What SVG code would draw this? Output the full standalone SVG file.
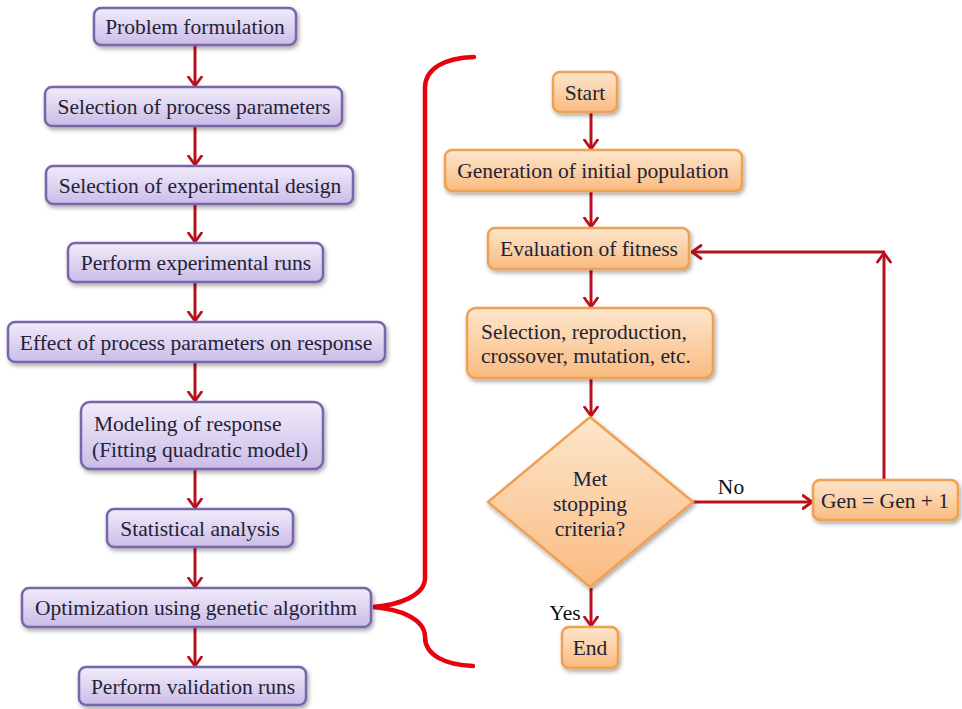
<svg xmlns="http://www.w3.org/2000/svg" width="962" height="709" viewBox="0 0 962 709">
<defs>
<linearGradient id="gp" x1="0" y1="0" x2="0" y2="1">
<stop offset="0" stop-color="#f1ecfb"/>
<stop offset="1" stop-color="#cbbce8"/>
</linearGradient>
<linearGradient id="go" x1="0" y1="0" x2="0" y2="1">
<stop offset="0" stop-color="#fde6cc"/>
<stop offset="1" stop-color="#f9bb80"/>
</linearGradient>
<filter id="sh" x="-10%" y="-20%" width="120%" height="150%">
<feDropShadow dx="1.5" dy="2.5" stdDeviation="2" flood-color="#000" flood-opacity="0.35"/>
</filter>
<marker id="ah" viewBox="0 0 12 16" refX="10.5" refY="8" markerWidth="12" markerHeight="16" markerUnits="userSpaceOnUse" orient="auto">
<path d="M1.5,1.5 L10.5,8 L1.5,14.5" fill="none" stroke="#b8101c" stroke-width="2.8" stroke-linecap="round" stroke-linejoin="round"/>
</marker>
</defs>
<style>
.p{fill:url(#gp);stroke:#7766a8;stroke-width:2.5;filter:url(#sh)}
.o{fill:url(#go);stroke:#f0a050;stroke-width:2.5;filter:url(#sh)}
text{font-family:"Liberation Serif","Times New Roman",serif;font-size:21.5px;fill:#1f2335}
.c{text-anchor:middle}
.lbl{fill:#111}
.cn{fill:none;stroke:#b8101c;stroke-width:3;marker-end:url(#ah)}
.br{fill:none;stroke:#e8000c;stroke-width:4.5;stroke-linecap:round}
</style>

<g id="connectors">
<line class="cn" x1="195" y1="46" x2="195" y2="86"/>
<line class="cn" x1="195" y1="127" x2="195" y2="165"/>
<line class="cn" x1="195" y1="205" x2="195" y2="242"/>
<line class="cn" x1="195" y1="283" x2="195" y2="321"/>
<line class="cn" x1="195" y1="363" x2="195" y2="401"/>
<line class="cn" x1="195" y1="470" x2="195" y2="508"/>
<line class="cn" x1="195" y1="548" x2="195" y2="587"/>
<line class="cn" x1="195" y1="628" x2="195" y2="666"/>
<line class="cn" x1="591" y1="113" x2="591" y2="149"/>
<line class="cn" x1="591" y1="192" x2="591" y2="227"/>
<line class="cn" x1="591" y1="270" x2="591" y2="307"/>
<line class="cn" x1="591" y1="379" x2="591" y2="416"/>
<line class="cn" x1="591" y1="588" x2="591" y2="626"/>
<line class="cn" x1="693" y1="502" x2="812" y2="502"/>
<line class="cn" x1="884" y1="479" x2="884" y2="253"/>
<line class="cn" x1="885" y1="252" x2="692" y2="252"/>
<path class="br" d="M474,57 C445,58 425,68 425,88 L425,578 C425,595 400,605 373,607 C400,609 425,619 425,637 C425,655 445,665 473,666"/>
<text class="lbl" x="731" y="494" text-anchor="middle">No</text>
<text class="lbl" x="565" y="620" text-anchor="middle">Yes</text>
</g>

<g id="n1"><rect class="p" x="94" y="8" width="202" height="37" rx="7"/><text class="c" x="195" y="34">Problem formulation</text></g>
<g id="n2"><rect class="p" x="45" y="87" width="297" height="39" rx="7"/><text class="c" x="194" y="114">Selection of process parameters</text></g>
<g id="n3"><rect class="p" x="46" y="166" width="307" height="38" rx="7"/><text class="c" x="200" y="193">Selection of experimental design</text></g>
<g id="n4"><rect class="p" x="68" y="243" width="255" height="39" rx="7"/><text class="c" x="196" y="270">Perform experimental runs</text></g>
<g id="n5"><rect class="p" x="8" y="322" width="377" height="40" rx="7"/><text class="c" x="196" y="350">Effect of process parameters on response</text></g>
<g id="n6"><rect class="p" x="81" y="402" width="242" height="67" rx="9"/><text x="94" y="431">Modeling of response</text><text x="92" y="457">(Fitting quadratic model)</text></g>
<g id="n7"><rect class="p" x="107" y="509" width="186" height="38" rx="7"/><text class="c" x="200" y="536">Statistical analysis</text></g>
<g id="n8"><rect class="p" x="22" y="588" width="349" height="39" rx="7"/><text class="c" x="196" y="615">Optimization using genetic algorithm</text></g>
<g id="n9"><rect class="p" x="79" y="667" width="227" height="38" rx="7"/><text class="c" x="193" y="694">Perform validation runs</text></g>

<g id="start"><rect class="o" x="553" y="72" width="64" height="40" rx="7"/><text class="c" x="585" y="100">Start</text></g>
<g id="gen"><rect class="o" x="445" y="150" width="297" height="41" rx="7"/><text class="c" x="593" y="178">Generation of initial population</text></g>
<g id="eval"><rect class="o" x="488" y="228" width="201" height="41" rx="7"/><text class="c" x="589" y="256">Evaluation of fitness</text></g>
<g id="sel"><rect class="o" x="467" y="308" width="246" height="70" rx="9"/><text x="481" y="339">Selection, reproduction,</text><text x="481" y="363">crossover, mutation, etc.</text></g>
<g id="dec"><polygon class="o" points="590,417 693,502 590,587 488,502"/><text class="c" x="590" y="486">Met</text><text class="c" x="590" y="511">stopping</text><text class="c" x="590" y="536">criteria?</text></g>
<g id="end"><rect class="o" x="562" y="627" width="56" height="41" rx="7"/><text class="c" x="590" y="655">End</text></g>
<g id="inc"><rect class="o" x="813" y="480" width="145" height="40" rx="7"/><text class="c" x="885" y="508">Gen = Gen + 1</text></g>
</svg>
